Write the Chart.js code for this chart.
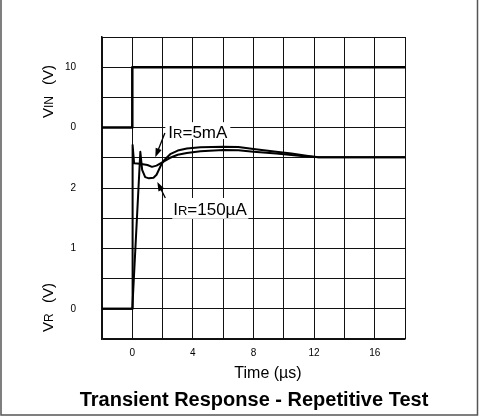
<!DOCTYPE html>
<html>
<head>
<meta charset="utf-8">
<script src="https://cdn.jsdelivr.net/npm/chart.js@4.4.0/dist/chart.umd.min.js"></script>
<style>
  html, body { margin: 0; padding: 0; background: #fff; }
</style>
</head>
<body>
<canvas id="chart" width="479" height="416"></canvas>
<script>
// input step, VIN in volts
const timeIn = [-2, 0, 0, 18];
const vIn = [0, 0, 10, 10];

// VR response, IR = 5mA (volts)
const time5mA = [-2, 0, 0.02, 0.12, 0.5, 1.0, 1.3, 1.6, 2.0, 2.5, 3.0, 3.6, 4.5, 6.0, 7.0, 8.0, 9.5, 10.5, 11.5, 12.3, 18];
const vr5mA = [0, 0, 2.71, 2.41, 2.40, 2.38, 2.35, 2.37, 2.43, 2.50, 2.55, 2.58, 2.61, 2.63, 2.625, 2.60, 2.57, 2.545, 2.52, 2.51, 2.51];

// VR response, IR = 150uA (volts)
const time150uA = [-2, 0, 0.02, 0.53, 0.65, 0.85, 1.1, 1.4, 1.6, 1.9, 2.1, 2.5, 3.0, 3.6, 4.5, 6.0, 7.0, 8.0, 9.5, 10.5, 11.5, 12.3, 18];
const vr150uA = [0, 0, 0, 2.60, 2.30, 2.18, 2.16, 2.17, 2.22, 2.38, 2.46, 2.56, 2.62, 2.655, 2.675, 2.685, 2.68, 2.645, 2.60, 2.57, 2.535, 2.51, 2.51];

// tick labels
const xTickLabels = [0, 4, 8, 12, 16];
const yTickLabels = ['', '0', '', '1', '', '2', '', '0', '', '10', ''];

// the graph is one grid of 10 divisions: VIN 5 V/div from div 7, VR 0.5 V/div from div 1
const vinToDiv = v => 7 + v / 5;
const vrToDiv = v => 1 + v * 2;

const toPoints = (ts, vs, conv) => ts.map((t, i) => ({ x: t, y: conv(vs[i]) }));

const FONT = '"Liberation Sans", Arial, Helvetica, sans-serif';

function drawPieces(ctx, x, y, pieces) {
  // pieces: [text, size, bold]
  let cx = x;
  pieces.forEach(([text, size, bold]) => {
    ctx.font = (bold ? 'bold ' : '') + size + 'px ' + FONT;
    ctx.fillText(text, cx, y);
    cx += ctx.measureText(text).width;
  });
  return cx - x;
}

function arrow(ctx, x1, y1, x2, y2) {
  const ang = Math.atan2(y2 - y1, x2 - x1);
  const len = 9, half = 3.2;
  ctx.beginPath();
  ctx.moveTo(x1, y1);
  ctx.lineTo(x2 - 4 * Math.cos(ang), y2 - 4 * Math.sin(ang));
  ctx.lineWidth = 1.3;
  ctx.stroke();
  ctx.beginPath();
  ctx.moveTo(x2, y2);
  ctx.lineTo(x2 - len * Math.cos(ang) + half * Math.sin(ang), y2 - len * Math.sin(ang) - half * Math.cos(ang));
  ctx.lineTo(x2 - len * Math.cos(ang) - half * Math.sin(ang), y2 - len * Math.sin(ang) + half * Math.cos(ang));
  ctx.closePath();
  ctx.fill();
}

const decorations = {
  id: 'decorations',
  beforeDraw(chart) {
    const ctx = chart.ctx;
    ctx.save();
    ctx.fillStyle = '#fff';
    ctx.fillRect(0, 0, chart.width, chart.height);
    // page frame (left, right, bottom)
    ctx.strokeStyle = '#555';
    ctx.lineWidth = 1.5;
    ctx.beginPath();
    ctx.moveTo(1, 0);
    ctx.lineTo(1, 415);
    ctx.lineTo(477.5, 415);
    ctx.lineTo(477.5, 0);
    ctx.stroke();
    ctx.restore();
  },
  afterDatasetsDraw(chart) {
    const ctx = chart.ctx;
    const xs = chart.scales.x, ys = chart.scales.y;
    const px = t => xs.getPixelForValue(t);
    const py = d => ys.getPixelForValue(d);
    ctx.save();
    ctx.fillStyle = '#000';
    ctx.strokeStyle = '#000';

    // curve labels on white boxes
    ctx.fillStyle = '#fff';
    ctx.fillRect(px(2.18), py(7.18), px(6.47) - px(2.18), py(6.62) - py(7.18));
    ctx.fillRect(px(2.64), py(4.67), px(7.66) - px(2.64), py(3.98) - py(4.67));
    ctx.fillStyle = '#000';
    ctx.textBaseline = 'alphabetic';
    drawPieces(ctx, px(2.38), py(6.85) + 6, [['I', 17], ['R', 13], ['=5mA', 17]]);
    drawPieces(ctx, px(2.7), py(4.29) + 6, [['I', 17], ['R', 13], ['=150\u00b5A', 17]]);

    // arrows
    arrow(ctx, px(2.15), py(6.82), px(1.52), py(6.02));
    arrow(ctx, px(2.18), py(4.67), px(1.65), py(5.2));

    // y axis titles (rotated)
    ctx.save();
    ctx.translate(52.5, 118);
    ctx.rotate(-Math.PI / 2);
    drawPieces(ctx, 0, 0, [['V', 15], ['IN', 12]]);
    ctx.restore();
    ctx.save();
    ctx.translate(52.5, 85);
    ctx.rotate(-Math.PI / 2);
    drawPieces(ctx, 0, 0, [['(V)', 15]]);
    ctx.restore();

    ctx.save();
    ctx.translate(52.5, 332);
    ctx.rotate(-Math.PI / 2);
    drawPieces(ctx, 0, 0, [['V', 15], ['R', 12]]);
    ctx.restore();
    ctx.save();
    ctx.translate(52.5, 303);
    ctx.rotate(-Math.PI / 2);
    drawPieces(ctx, 0, 0, [['(V)', 15]]);
    ctx.restore();

    // x axis title and chart title
    ctx.textAlign = 'center';
    ctx.textBaseline = 'middle';
    ctx.font = '16px ' + FONT;
    ctx.fillText('Time (\u00b5s)', 268, 374);
    ctx.font = 'bold 20px ' + FONT;
    ctx.fillText('Transient Response - Repetitive Test', 254, 400);
    ctx.restore();
  }
};

new Chart(document.getElementById('chart'), {
  type: 'line',
  data: {
    datasets: [
      {
        label: 'VIN',
        data: toPoints(timeIn, vIn, vinToDiv),
        borderColor: '#000',
        borderWidth: 2.5
      },
      {
        label: 'IR=5mA',
        data: toPoints(time5mA, vr5mA, vrToDiv),
        borderColor: '#000',
        borderWidth: 2
      },
      {
        label: 'IR=150uA',
        data: toPoints(time150uA, vr150uA, vrToDiv),
        borderColor: '#000',
        borderWidth: 2
      }
    ]
  },
  options: {
    responsive: false,
    animation: false,
    devicePixelRatio: 1,
    layout: { padding: { left: 0, right: 74, top: 37, bottom: 0 } },
    elements: {
      point: { radius: 0 },
      line: { tension: 0, fill: false, borderJoinStyle: 'round' }
    },
    plugins: {
      legend: { display: false },
      tooltip: { enabled: false }
    },
    scales: {
      x: {
        type: 'linear',
        min: -2,
        max: 18,
        afterFit: scale => { scale.height = 77; },
        grid: { color: '#111', lineWidth: 1, drawTicks: false },
        border: { color: '#111', width: 1.5 },
        ticks: {
          stepSize: 2,
          padding: 8,
          color: '#000',
          font: { family: FONT, size: 10 },
          maxRotation: 0,
          autoSkip: false,
          callback: v => xTickLabels.includes(v) ? String(v) : ''
        }
      },
      y: {
        type: 'linear',
        min: 0,
        max: 10,
        afterFit: scale => { scale.width = 102; },
        grid: { color: '#111', lineWidth: 1, drawTicks: false },
        border: { color: '#111', width: 1.5 },
        ticks: {
          stepSize: 1,
          padding: 26,
          color: '#000',
          font: { family: FONT, size: 10 },
          autoSkip: false,
          callback: v => yTickLabels[v]
        }
      }
    }
  },
  plugins: [decorations]
});
</script>
</body>
</html>
